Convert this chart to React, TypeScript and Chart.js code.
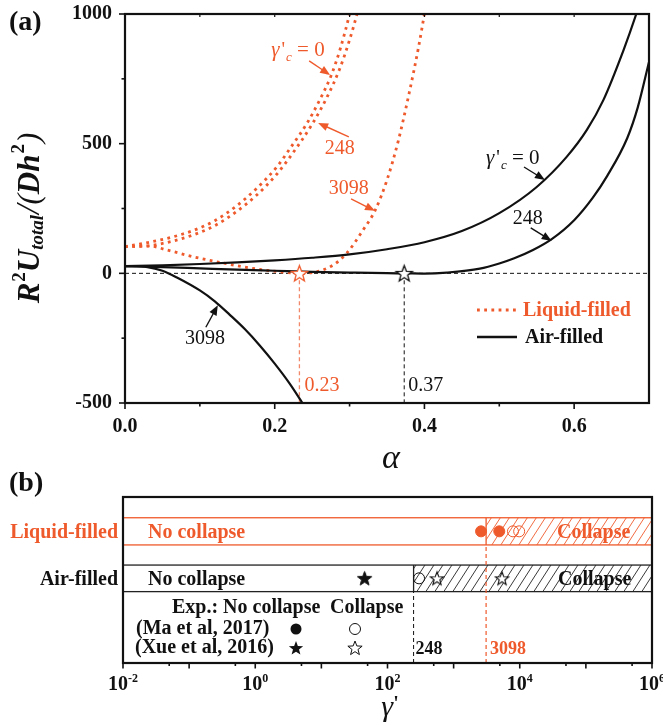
import React, { useEffect, useRef } from 'react';
import { Chart, registerables } from 'chart.js';
Chart.register(...registerables);

const ORANGE = '#EF5A2C';
const ORANGE_LIGHT = '#F3896B';
const SERIF = '"Liberation Serif", "Times New Roman", serif';

// ---------------- Panel (a) data: [alpha, R^2 U_total / (D h^2)] ----------------
const ALPHA_TICKS = [0, 0.2, 0.4, 0.6];
const ALPHA_MINOR = [0.1, 0.3, 0.5];
const ALPHA_TOP = [0.1, 0.2, 0.3, 0.4, 0.5, 0.6];
const U_TICKS = [-500, 0, 500, 1000];
const U_MINOR = [-250, 250, 750];

const airGc0: [number, number][] = [
  [0, 28], [0.05, 31], [0.1, 36], [0.15, 42], [0.2, 50], [0.25, 60], [0.3, 73], [0.35, 93],
  [0.4, 120], [0.45, 163], [0.5, 232], [0.55, 333], [0.59, 449], [0.617, 553], [0.639, 668],
  [0.666, 861], [0.683, 1000], [0.695, 1110],
];
const airGc248: [number, number][] = [
  [0, 28], [0.05, 24], [0.1, 19], [0.15, 14], [0.2, 10], [0.25, 6], [0.3, 3], [0.35, 0.5],
  [0.373, 0], [0.4, -1], [0.43, 3], [0.474, 18], [0.5, 38], [0.52, 58], [0.545, 90], [0.57, 132],
  [0.6, 205], [0.625, 292], [0.644, 375], [0.671, 522], [0.685, 640], [0.7, 815],
];
const airGc3098: [number, number][] = [
  [0, 28], [0.03, 24], [0.05, 10], [0.07, -17], [0.1, -66], [0.12, -108], [0.14, -160],
  [0.16, -215], [0.18, -278], [0.2, -348], [0.22, -425], [0.237, -500], [0.25, -560],
];
const liqGc0: [number, number][] = [
  [0, 103], [0.033, 120], [0.062, 139], [0.091, 165], [0.12, 203], [0.149, 260], [0.176, 328],
  [0.203, 411], [0.222, 488], [0.243, 578], [0.26, 668], [0.275, 760], [0.288, 870], [0.3, 1000],
  [0.31, 1130],
];
const liqGc248: [number, number][] = [
  [0, 103], [0.033, 107], [0.062, 123], [0.091, 148], [0.12, 184], [0.149, 238], [0.176, 302],
  [0.203, 383], [0.222, 455], [0.25, 575], [0.27, 680], [0.287, 790], [0.3, 900], [0.31, 1000],
  [0.318, 1090],
];
const liqGc3098: [number, number][] = [
  [0, 103], [0.033, 105], [0.056, 90], [0.091, 64], [0.122, 45], [0.145, 32], [0.18, 15],
  [0.21, 5], [0.233, 0], [0.256, 6], [0.278, 32], [0.296, 77], [0.318, 167], [0.334, 242],
  [0.35, 360], [0.365, 510], [0.38, 700], [0.392, 870], [0.4, 1000], [0.406, 1100],
];
const CRIT_ALPHA_LIQ = 0.233;
const CRIT_ALPHA_AIR = 0.373;

// ---------------- Panel (b) data: gamma' ----------------
const GAMMA_MIN = 0.01;
const GAMMA_MAX = 1e6;
const GAMMA_EXPONENTS = [-2, -1, 0, 1, 2, 3, 4, 5, 6];
const GAMMA_LABEL_EXPONENTS = [-2, 0, 2, 4, 6];
const GAMMA_CRIT_AIR = 248;
const GAMMA_CRIT_LIQ = 3098;
const liqNoCollapseMa = [2600, 4900];
const liqCollapseMa = [7900, 9800];
const airNoCollapseXue = [45];
const airCollapseMa = [300];
const airCollapseXue = [560, 5400];

// row bands on the hidden y scale of panel (b)
const LIQ_ROW: [number, number] = [5.69, 7.0];
const AIR_ROW: [number, number] = [3.44, 4.72];
const LIQ_Y = (LIQ_ROW[0] + LIQ_ROW[1]) / 2;
const AIR_Y = (AIR_ROW[0] + AIR_ROW[1]) / 2;

// ---------------- helpers ----------------
type Seg = { t: string; f: string; dy?: number; dx?: number };

function drawRich(ctx: CanvasRenderingContext2D, segs: Seg[], x: number, y: number, align: 'left' | 'center' | 'right', color: string) {
  ctx.fillStyle = color;
  ctx.textBaseline = 'alphabetic';
  ctx.textAlign = 'left';
  let w = 0;
  for (const g of segs) { ctx.font = g.f; w += ctx.measureText(g.t).width + (g.dx || 0); }
  let cx = align === 'center' ? x - w / 2 : align === 'right' ? x - w : x;
  for (const g of segs) {
    ctx.font = g.f;
    cx += g.dx || 0;
    ctx.fillText(g.t, cx, y + (g.dy || 0));
    cx += ctx.measureText(g.t).width;
  }
}

function arrow(ctx: CanvasRenderingContext2D, x1: number, y1: number, x2: number, y2: number, color: string) {
  const ang = Math.atan2(y2 - y1, x2 - x1);
  const L = 10, Wd = 4;
  ctx.strokeStyle = color; ctx.fillStyle = color; ctx.lineWidth = 1.4; ctx.setLineDash([]);
  ctx.beginPath(); ctx.moveTo(x1, y1);
  ctx.lineTo(x2 - L * 0.8 * Math.cos(ang), y2 - L * 0.8 * Math.sin(ang)); ctx.stroke();
  ctx.beginPath(); ctx.moveTo(x2, y2);
  ctx.lineTo(x2 - L * Math.cos(ang) + Wd * Math.sin(ang), y2 - L * Math.sin(ang) - Wd * Math.cos(ang));
  ctx.lineTo(x2 - L * Math.cos(ang) - Wd * Math.sin(ang), y2 - L * Math.sin(ang) + Wd * Math.cos(ang));
  ctx.closePath(); ctx.fill();
}

function starPath(ctx: CanvasRenderingContext2D, cx: number, cy: number, r: number) {
  ctx.beginPath();
  for (let i = 0; i < 10; i++) {
    const a = -Math.PI / 2 + (i * Math.PI) / 5;
    const rr = i % 2 === 0 ? r : r * 0.42;
    ctx.lineTo(cx + rr * Math.cos(a), cy + rr * Math.sin(a));
  }
  ctx.closePath();
}

function makeStar(r: number, stroke: string, fill: string, lw: number) {
  const c = document.createElement('canvas');
  const s = Math.ceil(2 * r + 4);
  c.width = s; c.height = s;
  const g = c.getContext('2d')!;
  starPath(g, s / 2, s / 2 + r * 0.08, r);
  g.fillStyle = fill; g.fill();
  g.lineWidth = lw; g.strokeStyle = stroke; g.lineJoin = 'miter'; g.stroke();
  return c;
}

function makeHatch(ctx: CanvasRenderingContext2D, color: string) {
  const w = 9, h = 14;
  const c = document.createElement('canvas');
  c.width = w; c.height = h;
  const g = c.getContext('2d')!;
  g.strokeStyle = color; g.lineWidth = 0.9;
  g.beginPath();
  for (const off of [-w, 0, w]) { g.moveTo(off, h); g.lineTo(off + w, 0); }
  g.stroke();
  return ctx.createPattern(c, 'repeat')!;
}

const gammaC = (size: number): Seg[] => [
  { t: 'γ', f: `italic ${size + 1}px ${SERIF}` },
  { t: "'", f: `${size}px ${SERIF}`, dx: 2 },
  { t: 'c', f: `italic ${Math.round(size * 0.65)}px ${SERIF}`, dy: 5, dx: 1 },
  { t: ' = 0', f: `${size + 1}px ${SERIF}` },
];

type Ann = { segs?: Seg[]; text?: string; color: string; at: [number, number]; from?: [number, number]; to?: [number, number] };
const ANNOTATIONS_A: Ann[] = [
  { segs: gammaC(20), color: ORANGE, at: [0.231, 861], from: [0.246, 819], to: [0.274, 765] },
  { text: '248', color: ORANGE, at: [0.287, 479], from: [0.299, 526], to: [0.258, 580] },
  { text: '3098', color: ORANGE, at: [0.299, 325], from: [0.302, 287], to: [0.334, 241] },
  { segs: gammaC(20), color: '#111', at: [0.518, 445], from: [0.533, 410], to: [0.561, 360] },
  { text: '248', color: '#111', at: [0.538, 210], from: [0.542, 175], to: [0.57, 125] },
  { text: '3098', color: '#111', at: [0.107, -254], from: [0.108, -208], to: [0.124, -123] },
];

const panelAPlugin = {
  id: 'panelA',
  afterDatasetsDraw(chart: any) {
    const { ctx, chartArea: ca, scales } = chart;
    const x = scales.x, y = scales.y;
    ctx.save();
    ctx.setLineDash([]);
    // frame
    ctx.strokeStyle = '#111'; ctx.lineWidth = 2.2;
    ctx.strokeRect(ca.left, ca.top, ca.right - ca.left, ca.bottom - ca.top);
    // ticks
    ctx.lineWidth = 1.6;
    const tick = (x1: number, y1: number, x2: number, y2: number) => { ctx.beginPath(); ctx.moveTo(x1, y1); ctx.lineTo(x2, y2); ctx.stroke(); };
    U_TICKS.forEach(v => { const py = y.getPixelForValue(v); tick(ca.left, py, ca.left - 6, py); });
    U_MINOR.forEach(v => { const py = y.getPixelForValue(v); tick(ca.left, py, ca.left - 3.5, py); });
    ALPHA_TICKS.forEach(v => { const px = x.getPixelForValue(v); tick(px, ca.bottom, px, ca.bottom + 6); });
    ALPHA_MINOR.forEach(v => { const px = x.getPixelForValue(v); tick(px, ca.bottom, px, ca.bottom + 3.5); });
    ctx.lineWidth = 1.2;
    ALPHA_TOP.forEach(v => { const px = x.getPixelForValue(v); tick(px, ca.top, px, ca.top + 3); });

    // annotations
    for (const a of ANNOTATIONS_A) {
      const ax = x.getPixelForValue(a.at[0]);
      const ay = y.getPixelForValue(a.at[1]);
      if (a.segs) drawRich(ctx, a.segs, ax, ay + 6, 'center', a.color);
      else {
        ctx.font = `20px ${SERIF}`; ctx.fillStyle = a.color; ctx.textAlign = 'center'; ctx.textBaseline = 'middle';
        ctx.fillText(a.text!, ax, ay);
      }
      if (a.from && a.to) arrow(ctx, x.getPixelForValue(a.from[0]), y.getPixelForValue(a.from[1]), x.getPixelForValue(a.to[0]), y.getPixelForValue(a.to[1]), a.color);
    }
    // critical alpha labels
    ctx.font = `20px ${SERIF}`; ctx.textAlign = 'left'; ctx.textBaseline = 'middle';
    ctx.fillStyle = ORANGE;
    ctx.fillText(CRIT_ALPHA_LIQ.toFixed(2), x.getPixelForValue(CRIT_ALPHA_LIQ) + 5, y.getPixelForValue(-434));
    ctx.fillStyle = '#111';
    ctx.fillText(CRIT_ALPHA_AIR.toFixed(2), x.getPixelForValue(CRIT_ALPHA_AIR) + 4, y.getPixelForValue(-434));

    // legend
    ctx.lineWidth = 2.8; ctx.strokeStyle = ORANGE; ctx.setLineDash([2.8, 4.4]);
    tick(477, 310, 516, 310);
    ctx.setLineDash([]); ctx.strokeStyle = '#111'; ctx.lineWidth = 2.4;
    tick(477, 337, 517, 337);
    ctx.font = `bold 20px ${SERIF}`; ctx.textAlign = 'left'; ctx.textBaseline = 'middle';
    ctx.fillStyle = ORANGE; ctx.fillText('Liquid-filled', 523, 311);
    ctx.fillStyle = '#111'; ctx.fillText('Air-filled', 525, 338);

    // y-axis title
    ctx.save();
    ctx.translate(39, 218);
    ctx.rotate(-Math.PI / 2);
    const big = `italic bold 31px ${SERIF}`;
    const sm = `bold 19px ${SERIF}`;
    drawRich(ctx, [
      { t: 'R', f: big },
      { t: '2', f: sm, dy: -14, dx: 1 },
      { t: 'U', f: big },
      { t: 'total', f: `italic bold 19px ${SERIF}`, dy: 4 },
      { t: '/', f: `italic 34px ${SERIF}`, dx: 1 },
      { t: '(', f: `italic 31px ${SERIF}` },
      { t: 'D', f: big },
      { t: 'h', f: big },
      { t: '2', f: sm, dy: -15, dx: 1 },
      { t: ')', f: `italic 31px ${SERIF}`, dx: 1 },
    ], 0, 0, 'center', '#111');
    ctx.restore();

    // x-axis title
    ctx.font = `italic 34px ${SERIF}`; ctx.fillStyle = '#111'; ctx.textAlign = 'center'; ctx.textBaseline = 'alphabetic';
    ctx.fillText('α', 391, 468);
    // panel tag
    ctx.font = `bold 28px ${SERIF}`; ctx.textAlign = 'left'; ctx.textBaseline = 'middle';
    ctx.fillText('(a)', 9, 23);
    ctx.restore();
  },
};

let hatchO: CanvasPattern | null = null;
let hatchK: CanvasPattern | null = null;

const panelBPlugin = {
  id: 'panelB',
  beforeDatasetsDraw(chart: any) {
    const { ctx, chartArea: ca, scales } = chart;
    const x = scales.x, y = scales.y;
    if (!hatchO) hatchO = makeHatch(ctx, ORANGE);
    if (!hatchK) hatchK = makeHatch(ctx, '#222');
    ctx.save();
    ctx.setLineDash([]);
    const band = (row: [number, number], crit: number, color: string, hatch: CanvasPattern) => {
      const yTop = y.getPixelForValue(row[1]);
      const yBot = y.getPixelForValue(row[0]);
      const xc = x.getPixelForValue(crit);
      ctx.fillStyle = hatch;
      ctx.fillRect(xc, yTop, ca.right - xc, yBot - yTop);
      ctx.strokeStyle = color; ctx.lineWidth = 1.3;
      ctx.strokeRect(ca.left, yTop, ca.right - ca.left, yBot - yTop);
      ctx.beginPath(); ctx.moveTo(xc, yTop); ctx.lineTo(xc, yBot); ctx.stroke();
    };
    band(LIQ_ROW, GAMMA_CRIT_LIQ, ORANGE, hatchO!);
    band(AIR_ROW, GAMMA_CRIT_AIR, '#222', hatchK!);
    ctx.restore();
  },
  afterDatasetsDraw(chart: any) {
    const { ctx, chartArea: ca, scales } = chart;
    const x = scales.x, y = scales.y;
    ctx.save();
    ctx.setLineDash([]);
    const yl = y.getPixelForValue(LIQ_Y) + 1;
    const ya = y.getPixelForValue(AIR_Y) + 1;
    ctx.font = `bold 20px ${SERIF}`; ctx.textBaseline = 'middle';
    // row labels
    ctx.textAlign = 'right';
    ctx.fillStyle = ORANGE; ctx.fillText('Liquid-filled', 118, yl);
    ctx.fillStyle = '#111'; ctx.fillText('Air-filled', 118, ya);
    ctx.textAlign = 'left';
    ctx.fillStyle = ORANGE; ctx.fillText('No collapse', 148, yl); ctx.fillText('Collapse', 557, yl);
    ctx.fillStyle = '#111'; ctx.fillText('No collapse', 148, ya); ctx.fillText('Collapse', 558, ya);
    // legend
    ctx.fillText('Exp.: No collapse', 172, 138);
    ctx.fillText('Collapse', 330, 138);
    ctx.fillText('(Ma et al, 2017)', 136, 159);
    ctx.fillText('(Xue et al, 2016)', 135, 178);
    ctx.fillStyle = '#111';
    ctx.beginPath(); ctx.arc(296, 159, 5.5, 0, Math.PI * 2); ctx.fill();
    ctx.strokeStyle = '#111'; ctx.lineWidth = 1;
    ctx.beginPath(); ctx.arc(355, 159, 5.5, 0, Math.PI * 2); ctx.stroke();
    starPath(ctx, 296, 178.5, 7.5); ctx.fill();
    starPath(ctx, 355, 178.5, 7.5); ctx.fillStyle = '#fff'; ctx.fill(); ctx.stroke();
    // critical gamma labels
    ctx.font = `bold 18px ${SERIF}`;
    ctx.fillStyle = '#111'; ctx.fillText(String(GAMMA_CRIT_AIR), x.getPixelForValue(GAMMA_CRIT_AIR) + 2, 179);
    ctx.fillStyle = ORANGE; ctx.fillText(String(GAMMA_CRIT_LIQ), x.getPixelForValue(GAMMA_CRIT_LIQ) + 4, 179);
    // frame
    ctx.strokeStyle = '#111'; ctx.lineWidth = 2.2;
    ctx.strokeRect(ca.left, ca.top, ca.right - ca.left, ca.bottom - ca.top);
    // ticks
    ctx.lineWidth = 1.6;
    const tick = (px: number, len: number) => { ctx.beginPath(); ctx.moveTo(px, ca.bottom); ctx.lineTo(px, ca.bottom + len); ctx.stroke(); };
    GAMMA_EXPONENTS.forEach(k => {
      tick(x.getPixelForValue(Math.pow(10, k)), 5.5);
      if (k < 6) tick(x.getPixelForValue(5 * Math.pow(10, k)), 3);
    });
    // tick labels 10^k
    GAMMA_LABEL_EXPONENTS.forEach(k => {
      const px = x.getPixelForValue(Math.pow(10, k));
      drawRich(ctx, [
        { t: '10', f: `bold 20px ${SERIF}` },
        { t: String(k), f: `bold 12px ${SERIF}`, dy: -8 },
      ], px, 220, 'center', '#111');
    });
    // axis title
    drawRich(ctx, [
      { t: 'γ', f: `italic 30px ${SERIF}` },
      { t: "'", f: `bold 20px ${SERIF}`, dy: -6 },
    ], 390, 246, 'center', '#111');
    // panel tag
    ctx.font = `bold 28px ${SERIF}`; ctx.fillStyle = '#111'; ctx.textAlign = 'left'; ctx.textBaseline = 'middle';
    ctx.fillText('(b)', 9, 14);
    ctx.restore();
  },
};

const toPts = (arr: [number, number][]) => arr.map(([a, u]) => ({ x: a, y: u }));

export default function App() {
  const refA = useRef<HTMLCanvasElement>(null);
  const refB = useRef<HTMLCanvasElement>(null);

  useEffect(() => {
    const starRed = makeStar(8.5, ORANGE, '#fff', 1.3);
    const starBlack = makeStar(8.5, '#111', '#fff', 1.3);
    const starOpenB = makeStar(7, '#111', '#fff', 1.1);
    const starFilledB = makeStar(7.5, '#111', '#111', 1);

    const curve = (data: [number, number][], liquid: boolean) => ({
      data: toPts(data),
      showLine: true,
      pointRadius: 0,
      borderColor: liquid ? ORANGE : '#111',
      borderWidth: liquid ? 2.8 : 2.2,
      borderDash: liquid ? [2.8, 4.4] : [],
      borderCapStyle: 'butt' as const,
      cubicInterpolationMode: 'monotone' as const,
      tension: 0.4,
      fill: false,
    });
    const dashed = (pts: { x: number; y: number }[], color: string, w = 1) => ({
      data: pts, showLine: true, pointRadius: 0, borderColor: color, borderWidth: w,
      borderDash: [4, 3], fill: false, tension: 0,
    });

    const fontTick = { family: SERIF, size: 20, weight: 'bold' as const };
    const noPad = (s: any) => { s.paddingTop = 0; s.paddingBottom = 0; s.paddingLeft = 0; s.paddingRight = 0; };

    const chartA = new Chart(refA.current!, {
      type: 'scatter',
      data: {
        datasets: [
          { data: [{ x: CRIT_ALPHA_LIQ, y: 0 }], pointStyle: starRed as any, pointRadius: 8, showLine: false },
          { data: [{ x: CRIT_ALPHA_AIR, y: 0 }], pointStyle: starBlack as any, pointRadius: 8, showLine: false },
          curve(airGc0, false),
          curve(airGc248, false),
          curve(airGc3098, false),
          curve(liqGc0, true),
          curve(liqGc248, true),
          curve(liqGc3098, true),
          dashed([{ x: 0, y: 0 }, { x: 0.7, y: 0 }], '#111', 1),
          dashed([{ x: CRIT_ALPHA_LIQ, y: 0 }, { x: CRIT_ALPHA_LIQ, y: -500 }], ORANGE_LIGHT, 1.3),
          dashed([{ x: CRIT_ALPHA_AIR, y: 0 }, { x: CRIT_ALPHA_AIR, y: -500 }], '#111', 1),
        ] as any,
      },
      options: {
        animation: false,
        responsive: false,
        layout: { padding: { top: 14, right: 14, left: 0, bottom: 0 } },
        plugins: { legend: { display: false }, tooltip: { enabled: false } },
        scales: {
          x: {
            type: 'linear', min: 0, max: 0.7,
            grid: { display: false, drawTicks: false }, border: { display: false },
            afterBuildTicks: (s: any) => { s.ticks = ALPHA_TICKS.map(v => ({ value: v })); },
            afterFit: (s: any) => { s.height = 67; noPad(s); },
            ticks: { font: fontTick, color: '#111', padding: 12, maxRotation: 0, autoSkip: false, callback: (v: any) => Number(v).toFixed(1) },
          },
          y: {
            type: 'linear', min: -500, max: 1000,
            grid: { display: false, drawTicks: false }, border: { display: false },
            afterBuildTicks: (s: any) => { s.ticks = U_TICKS.map(v => ({ value: v })); },
            afterFit: (s: any) => { s.width = 125; noPad(s); },
            ticks: { font: fontTick, color: '#111', padding: 13, autoSkip: false, callback: (v: any) => String(v) },
          },
        },
      } as any,
      plugins: [panelAPlugin],
    });

    const markers = (xs: number[], yv: number, opts: any) => ({
      data: xs.map(g => ({ x: g, y: yv })), showLine: false, ...opts,
    });

    const chartB = new Chart(refB.current!, {
      type: 'scatter',
      data: {
        datasets: [
          markers(liqNoCollapseMa, LIQ_Y, { pointStyle: 'circle', pointRadius: 5.5, backgroundColor: ORANGE, borderColor: ORANGE, borderWidth: 1 }),
          markers(liqCollapseMa, LIQ_Y, { pointStyle: 'circle', pointRadius: 5.5, backgroundColor: 'rgba(0,0,0,0)', borderColor: ORANGE, borderWidth: 1 }),
          markers(airNoCollapseXue, AIR_Y, { pointStyle: starFilledB, pointRadius: 7 }),
          markers(airCollapseMa, AIR_Y, { pointStyle: 'circle', pointRadius: 5.5, backgroundColor: 'rgba(0,0,0,0)', borderColor: '#111', borderWidth: 1 }),
          markers(airCollapseXue, AIR_Y, { pointStyle: starOpenB, pointRadius: 7 }),
          dashed([{ x: GAMMA_CRIT_LIQ, y: 0 }, { x: GAMMA_CRIT_LIQ, y: LIQ_ROW[0] }], ORANGE, 1.2),
          dashed([{ x: GAMMA_CRIT_AIR, y: 0 }, { x: GAMMA_CRIT_AIR, y: AIR_ROW[0] }], '#111', 1),
        ] as any,
      },
      options: {
        animation: false,
        responsive: false,
        layout: { padding: { top: 27, right: 11, left: 0, bottom: 0 } },
        plugins: { legend: { display: false }, tooltip: { enabled: false } },
        scales: {
          x: {
            type: 'logarithmic', min: GAMMA_MIN, max: GAMMA_MAX,
            grid: { display: false, drawTicks: false }, border: { display: false },
            ticks: { display: false },
            afterFit: (s: any) => { s.height = 63; noPad(s); },
          },
          y: {
            type: 'linear', min: 0, max: 8,
            grid: { display: false, drawTicks: false }, border: { display: false },
            ticks: { display: false },
            afterFit: (s: any) => { s.width = 123; noPad(s); },
          },
        },
      } as any,
      plugins: [panelBPlugin],
    });

    return () => { chartA.destroy(); chartB.destroy(); hatchO = null; hatchK = null; };
  }, []);

  return (
    <div style={{ position: 'absolute', left: 0, top: 0, width: 663, height: 726, background: '#fff' }}>
      <canvas ref={refA} width={663} height={470} style={{ position: 'absolute', left: 0, top: 0, width: 663, height: 470 }} />
      <canvas ref={refB} width={663} height={256} style={{ position: 'absolute', left: 0, top: 470, width: 663, height: 256 }} />
    </div>
  );
}
